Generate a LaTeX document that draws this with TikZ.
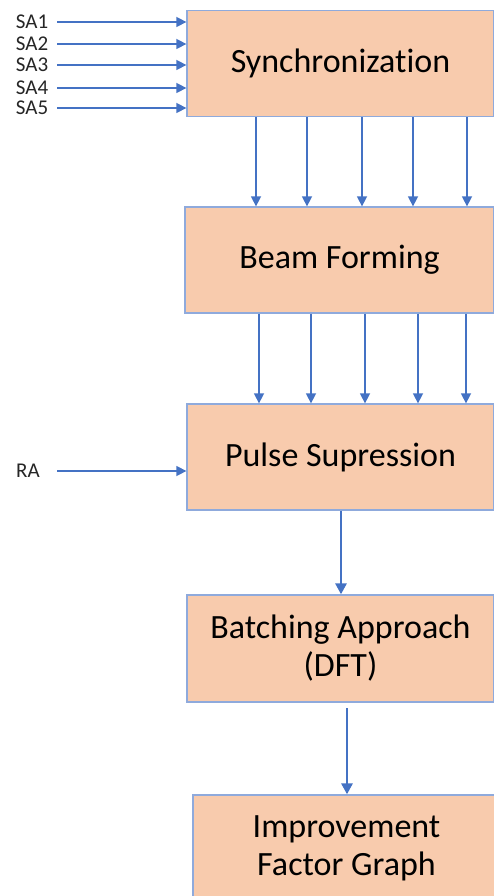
\documentclass[tikz,border=0pt]{standalone}
\usepackage{fontspec}
\setmainfont{Carlito}[Ligatures=NoCommon]
\usepackage{xcolor}
\usetikzlibrary{arrows.meta,positioning,calc}
\definecolor{boxfill}{HTML}{F8CBAD}
\definecolor{boxline}{HTML}{8FAADC}
\definecolor{arrowblue}{HTML}{4472C4}
\tikzset{
	blockbox/.style={draw=boxline,fill=boxfill,line width=1.3pt,minimum width=307pt,minimum height=106pt,align=center,font=\fontsize{34}{38}\selectfont,text=black},
	sidelabel/.style={font=\fontsize{21}{23}\selectfont,text=black!85,inner sep=2pt},
	flow/.style={-{Triangle[width=10pt,length=10pt]},arrowblue,line width=1.5pt},
	bigflow/.style={-{Triangle[width=11pt,length=11pt]},arrowblue,line width=2.8pt}
}
\begin{document}
\begin{tikzpicture}[x=1pt,y=-1pt]
	\clip (0,0) rectangle (494,896);
	\fill[white] (0,0) rectangle (494,896);
	% blocks
	\node[blockbox] (sync) at (340.5,63.5) {Synchronization};
	\node[blockbox,minimum width=309pt] (beam) at (339.5,260) {Beam Forming};
	\node[blockbox] (pulse) at (340.5,457) {Pulse Supression};
	\node[blockbox,minimum height=107pt] (batch) at (340.5,648.5) {Batching Approach\\(DFT)};
	\node[blockbox] (improve) at (346.5,848) {Improvement\\Factor Graph};
	% inputs
	\foreach \i/\y in {1/22,2/44,3/65,4/88,5/108}{
		\node[sidelabel] (sa\i) at (32,\y) {SA\i};
		\coordinate (sain\i) at (57,\y);
		\draw[flow] (sain\i) -- (sync.west |- sain\i);
	}
	\node[sidelabel] (ra) at (28,471) {RA};
	\coordinate (rain) at (57,471);
	\draw[flow] (rain) -- (pulse.west |- rain);
	% channels
	\foreach \x in {256,307,362,413,467}
		\draw[flow] (\x,0 |- sync.south) -- (\x,0 |- beam.north);
	\foreach \x in {259,311,365,418,466}
		\draw[flow] (\x,0 |- beam.south) -- (\x,0 |- pulse.north);
	\draw[bigflow] (341,0 |- pulse.south) -- (341,0 |- batch.north);
	\draw[bigflow] (347,708) -- (347,0 |- improve.north);
\end{tikzpicture}
\end{document}
